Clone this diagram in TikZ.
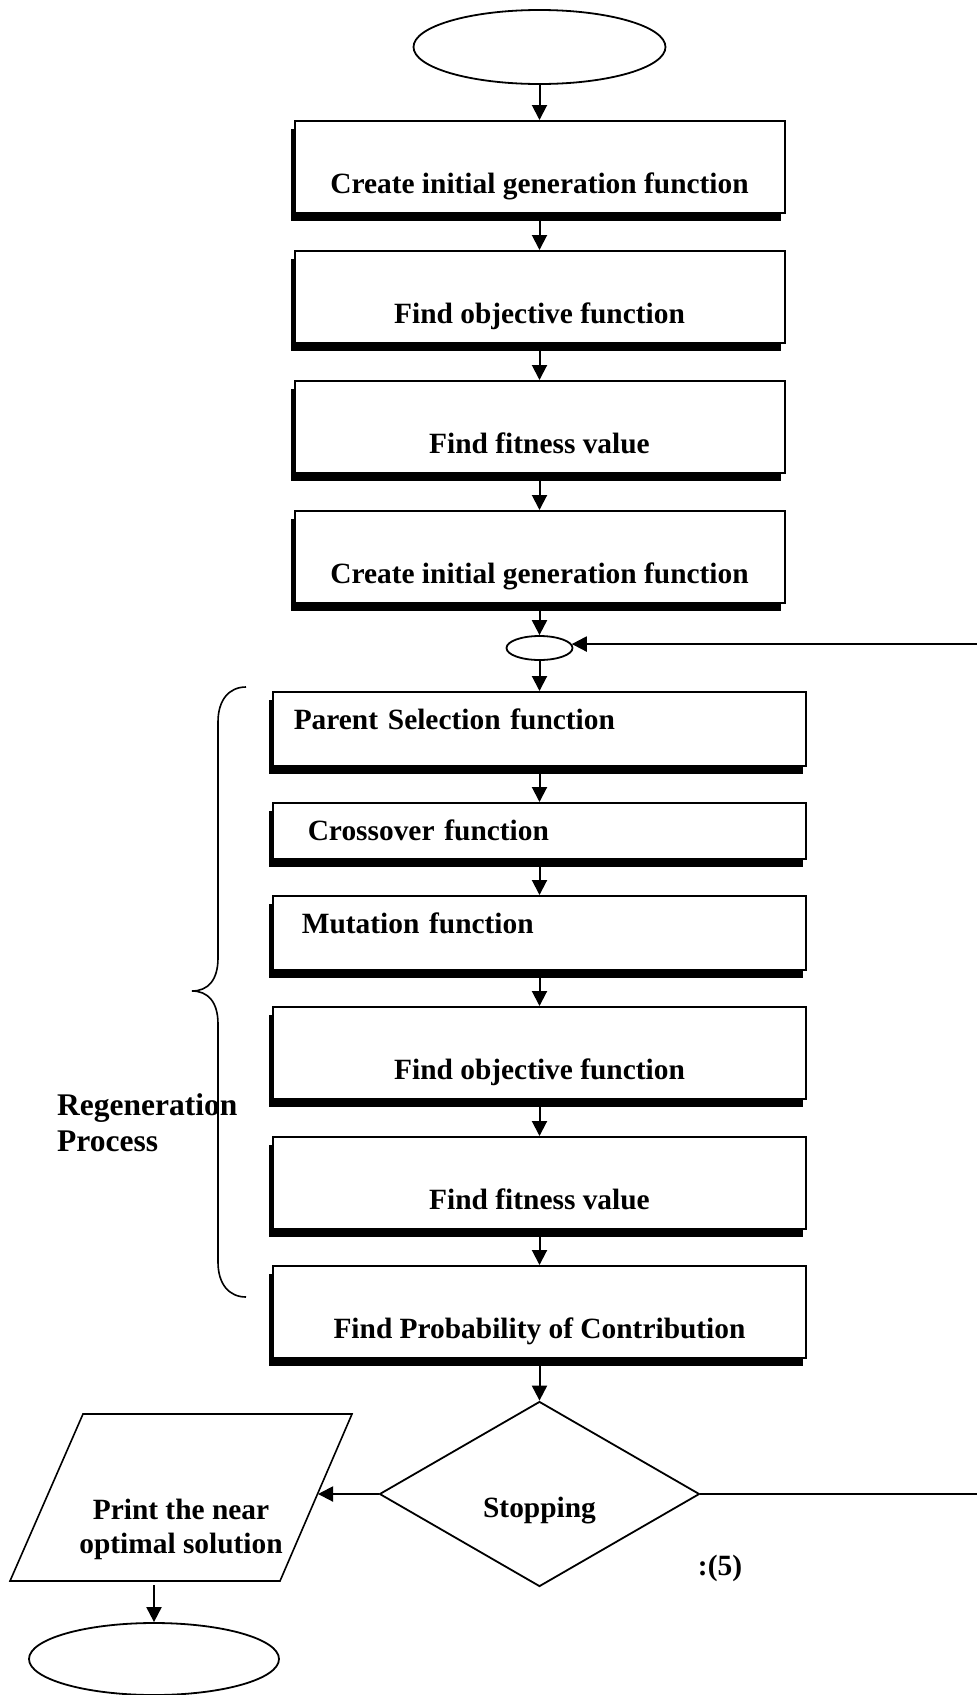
\documentclass[tikz,border=0pt]{standalone}
\usepackage{fontspec}
\setmainfont{Liberation Serif}
\usetikzlibrary{arrows.meta,shapes.geometric,shadows}
\begin{document}
\begin{tikzpicture}[x=1pt,y=-1pt,
  every node/.style={font=\fontsize{29.4pt}{34pt}\selectfont\bfseries},
  arr/.style={line width=2pt,-{Triangle[length=15pt,width=15pt]}},
  box/.style={draw,line width=2pt,rectangle,inner sep=0pt,fill=white,
     general shadow={fill=black,shadow xshift=-3.5pt,shadow yshift=-8pt}},
  upbox/.style={box,minimum width=490pt,text height=72pt,text depth=20pt},
  lowbox/.style={box,minimum width=533.5pt,text height=72pt,text depth=20pt},
  leftbox/.style={box,text width=533.5pt,align=left},
  oval/.style={draw,ellipse,line width=1.8pt,inner sep=0pt}
]
\useasboundingbox (0,0) rectangle (977,1695);

% main column
\node[oval,minimum width=252pt,minimum height=74pt] (start) at (539.5,47) {};
\node[upbox] (b1) at (539.5,167) {Create initial generation function};
\node[upbox] (b2) at (539.5,297) {Find objective function};
\node[upbox] (b3) at (539.5,427) {Find fitness value};
\node[upbox] (b4) at (539.5,557) {Create initial generation function};
\node[oval,minimum width=66pt,minimum height=24pt] (sm) at (539.5,648) {};
\node[leftbox,text height=37pt,text depth=37pt] (b5) at (539.5,729) {\hspace*{21pt}Parent Selection function};
\node[leftbox,text height=37pt,text depth=19pt] (b6) at (539.5,831) {\hspace*{35pt}Crossover function};
\node[leftbox,text height=37pt,text depth=37pt] (b7) at (539.5,933) {\hspace*{29pt}Mutation function};
\node[lowbox] (b8) at (539.5,1053) {Find objective function};
\node[lowbox] (b9) at (539.5,1183) {Find fitness value};
\node[lowbox] (b10) at (539.5,1312) {Find Probability of Contribution};
\node[diamond,draw,line width=1.8pt,minimum width=320pt,minimum height=185pt,
      inner sep=0pt,text height=46pt,text depth=0pt] (dia) at (539.5,1494) {Stopping};

% output parallelogram and end
\coordinate (pTL) at (83,1414);
\coordinate (pTR) at (352,1414);
\coordinate (pBR) at (280,1581);
\coordinate (pBL) at (10,1581);
\draw[line width=1.6pt,line join=miter] (pTL) -- (pTR) -- (pBR) -- (pBL) -- cycle;
\coordinate (pin) at (318,1494);
\coordinate (pout) at (154,1585);
\node[align=center] (ptxt) at (181,1529) {Print the near\\optimal solution};
\node[oval,minimum width=250pt,minimum height=72pt] (end) at (154,1659) {};

% labels
\node[anchor=west,inner sep=0pt,align=left,font=\fontsize{31.5pt}{36pt}\selectfont\bfseries] (reg) at (57,1123) {Regeneration\\Process};
\node[anchor=base,inner sep=0pt] (fig) at (720,1575) {:(5)};

% brace
\draw[line width=1.6pt] (246,687) .. controls (229,687) and (218,700) .. (218,722)
  -- (218,958) .. controls (218,980) and (208,991) .. (192,991)
  .. controls (208,991) and (218,1002) .. (218,1024)
  -- (218,1262) .. controls (218,1284) and (229,1297) .. (246,1297);

% connectors
\draw[arr] (start) -- (b1);
\draw[arr] (b1) -- (b2);
\draw[arr] (b2) -- (b3);
\draw[arr] (b3) -- (b4);
\draw[arr] (b4) -- (sm);
\draw[arr] (sm) -- (b5);
\draw[arr] (b5) -- (b6);
\draw[arr] (b6) -- (b7);
\draw[arr] (b7) -- (b8);
\draw[arr] (b8) -- (b9);
\draw[arr] (b9) -- (b10);
\draw[arr] (b10) -- (dia);
\draw[arr] (dia.west) -- (pin);
\draw[arr] (pout) -- (end.north);
\draw[arr] (dia.east) -- (990,1494) |- (sm.7);
\end{tikzpicture}
\end{document}
